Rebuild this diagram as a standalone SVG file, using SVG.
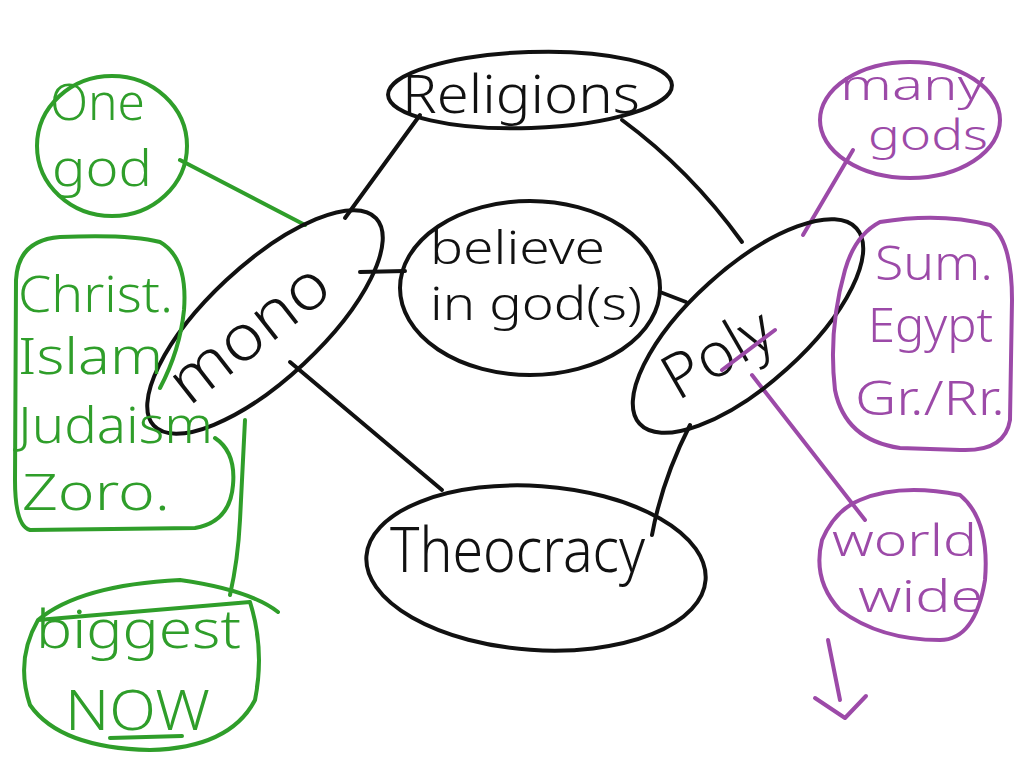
<svg xmlns="http://www.w3.org/2000/svg" width="1024" height="768" viewBox="0 0 1024 768">
<style>
.k{fill:none;stroke:#111;stroke-width:4;stroke-linecap:round;stroke-linejoin:round}
.g{fill:none;stroke:#2f9e2a;stroke-width:4;stroke-linecap:round;stroke-linejoin:round}
.p{fill:none;stroke:#9c4aa8;stroke-width:4;stroke-linecap:round;stroke-linejoin:round}
text{font-family:"Noto Sans","DejaVu Sans",sans-serif;font-weight:300}
.tk{fill:#111}
.tg{fill:#2f9e2a}
.tp{fill:#9c4aa8}
</style>
<rect width="1024" height="768" fill="#fff"/>
<g id="connectors">
<path class="k" d="M420,115 L345,218"/>
<path class="k" d="M622,120 Q690,170 742,242"/>
<path class="k" d="M360,272 L405,271"/>
<path class="k" d="M660,292 L686,302"/>
<path class="k" d="M290,362 L442,490"/>
<path class="k" d="M690,425 Q662,480 652,535"/>
<path class="g" d="M180,160 L305,225"/>
<path class="g" d="M245,420 L240,520 Q238,560 230,595"/>
<path class="p" d="M853,150 L803,235"/>
<path class="p" d="M752,375 L865,520"/>
<path class="p" d="M828,640 L840,700"/>
<path class="p" d="M815,698 L845,718 L866,696"/>
</g>
<g id="religions">
<ellipse class="k" cx="530" cy="90" rx="142" ry="38" transform="rotate(-2 530 90)"/>
<text class="tk" x="402" y="113" font-size="54" textLength="238" lengthAdjust="spacingAndGlyphs">Religions</text>
</g>
<g id="believe">
<ellipse class="k" cx="530" cy="288" rx="130" ry="87"/>
<text class="tk" x="430" y="264" font-size="46" textLength="175" lengthAdjust="spacingAndGlyphs">believe</text>
<text class="tk" x="430" y="320" font-size="46" textLength="212" lengthAdjust="spacingAndGlyphs">in god(s)</text>
</g>
<g id="mono">
<ellipse class="k" cx="265" cy="322" rx="152" ry="57" transform="rotate(-43 265 322)"/>
<text class="tk" font-size="64" text-anchor="middle" transform="translate(262,350) rotate(-38)" textLength="185" lengthAdjust="spacingAndGlyphs">mono</text>
</g>
<g id="poly">
<ellipse class="k" cx="748" cy="326" rx="146" ry="58" transform="rotate(-42 748 326)"/>
<text class="tk" font-size="62" text-anchor="middle" transform="translate(728,372) rotate(-30)">Poly</text>
<path class="p" d="M722,370 L775,330" stroke-width="7"/>
</g>
<g id="theocracy">
<ellipse class="k" cx="536" cy="568" rx="170" ry="82" transform="rotate(4 536 568)"/>
<text class="tk" x="390" y="572" font-size="62" textLength="255" lengthAdjust="spacingAndGlyphs">Theocracy</text>
</g>
<g id="onegod">
<ellipse class="g" cx="112" cy="146" rx="75" ry="70"/>
<text class="tg" x="50" y="120" font-size="50" textLength="95" lengthAdjust="spacingAndGlyphs">One</text>
<text class="tg" x="52" y="186" font-size="50" textLength="100" lengthAdjust="spacingAndGlyphs">god</text>
</g>
<g id="examples">
<path class="g" d="M160,388 Q180,350 184,310 Q188,258 160,242 Q130,234 60,237 Q18,240 16,280 L15,480 Q15,526 30,530 L195,528 Q230,522 233,485 Q236,452 215,438"/>
<text class="tg" x="18" y="312" font-size="50" textLength="155" lengthAdjust="spacingAndGlyphs">Christ.</text>
<text class="tg" x="18" y="374" font-size="50" textLength="145" lengthAdjust="spacingAndGlyphs">Islam</text>
<text class="tg" x="18" y="443" font-size="50" textLength="195" lengthAdjust="spacingAndGlyphs">Judaism</text>
<text class="tg" x="22" y="510" font-size="50" textLength="148" lengthAdjust="spacingAndGlyphs">Zoro.</text>
</g>
<g id="biggest">
<path class="g" d="M38,620 Q80,585 180,580 Q250,590 278,612 M250,602 Q265,650 255,700 Q230,748 150,750 Q60,748 30,705 Q15,660 38,620 Z"/>
<text class="tg" x="36" y="648" font-size="54" textLength="205" lengthAdjust="spacingAndGlyphs">biggest</text>
<text class="tg" x="65" y="730" font-size="56" textLength="145" lengthAdjust="spacingAndGlyphs">NOW</text>
<path class="g" d="M110,738 L182,736" stroke-width="5"/>
</g>
<g id="manygods">
<ellipse class="p" cx="910" cy="120" rx="90" ry="58"/>
<text class="tp" x="840" y="100" font-size="42" textLength="145" lengthAdjust="spacingAndGlyphs">many</text>
<text class="tp" x="868" y="150" font-size="42" textLength="120" lengthAdjust="spacingAndGlyphs">gods</text>
</g>
<g id="civilisations">
<path class="p" d="M880,222 Q940,212 990,225 Q1012,240 1012,300 L1010,420 Q1005,452 960,450 L900,448 Q845,440 835,390 Q828,330 845,270 Q855,235 880,222 Z"/>
<text class="tp" x="875" y="280" font-size="48" textLength="118" lengthAdjust="spacingAndGlyphs">Sum.</text>
<text class="tp" x="868" y="342" font-size="48" textLength="125" lengthAdjust="spacingAndGlyphs">Egypt</text>
<text class="tp" x="855" y="415" font-size="48" textLength="150" lengthAdjust="spacingAndGlyphs">Gr./Rr.</text>
</g>
<g id="worldwide">
<path class="p" d="M860,500 Q900,483 960,495 Q990,520 985,580 Q975,640 940,640 Q880,640 840,610 Q812,580 822,540 Q835,510 860,500 Z"/>
<text class="tp" x="832" y="556" font-size="44" textLength="145" lengthAdjust="spacingAndGlyphs">world</text>
<text class="tp" x="858" y="612" font-size="44" textLength="125" lengthAdjust="spacingAndGlyphs">wide</text>
</g>
</svg>
